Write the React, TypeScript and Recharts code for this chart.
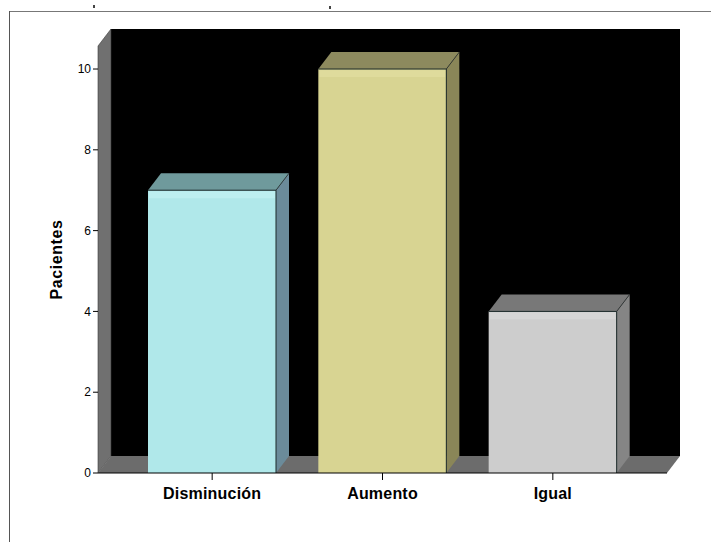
import React from "react";
import { BarChart, Bar, XAxis, YAxis, ReferenceArea, Cell, Label } from "recharts";

const categories = ["Disminución", "Aumento", "Igual"];
const patients = [7, 10, 4];
const yTicks = [0, 2, 4, 6, 8, 10];
const frontColors = ["#b0e8ea", "#d8d492", "#cdcdcd"];
const topColors = ["#6f9a9c", "#8d8a5e", "#787878"];
const sideColors = ["#6b8b9a", "#8a8658", "#858585"];
const bandColors = ["#bdeff0", "#dfdb9c", "#d6d6d6"];

const rows = categories.map((name, i) => ({ name, patients: patients[i] }));

const DEPTH_X = 13;
const DEPTH_Y = 17;
// The category axis is inset from the box on both sides.
const AXIS_INSET = 29;

const poly = (pts: number[][]) => pts.map((p) => p.join(",")).join(" ");

// Back wall, left wall and floor of the 3D plot box.
function PlotBox({ x: insetX, y, width: insetWidth, height }: any) {
  const x = insetX - AXIS_INSET;
  const width = insetWidth + AXIS_INSET * 2;
  const r = x + width;
  const b = y + height;
  return (
    <g>
      <rect x={x + DEPTH_X} y={y - DEPTH_Y} width={width} height={height} fill="#000" />
      <polygon
        points={poly([[x, y], [x + DEPTH_X, y - DEPTH_Y], [x + DEPTH_X, b - DEPTH_Y], [x, b]])}
        fill="#707070"
        stroke="#3a3a3a"
        strokeWidth={0.6}
      />
      <polygon
        points={poly([[x, b], [x + DEPTH_X, b - DEPTH_Y], [r + DEPTH_X, b - DEPTH_Y], [r, b]])}
        fill="#6c6c6c"
      />
    </g>
  );
}

// A bar as a box: front face with a lighter upper band, top face and right side face.
function BoxBar({ x, y, width, height, index }: any) {
  const r = x + width;
  const b = y + height;
  return (
    <g>
      <polygon
        points={poly([[r, y], [r + DEPTH_X, y - DEPTH_Y], [r + DEPTH_X, b - DEPTH_Y], [r, b]])}
        fill={sideColors[index]}
      />
      <polygon
        points={poly([[x, y], [x + DEPTH_X, y - DEPTH_Y], [r + DEPTH_X, y - DEPTH_Y], [r, y]])}
        fill={topColors[index]}
      />
      <rect x={x} y={y} width={width} height={height} fill={frontColors[index]} />
      <rect x={x + 1} y={y + 1} width={width - 2} height={7} fill={bandColors[index]} />
      <line x1={x} y1={y} x2={r} y2={y} stroke="#1c2a2a" strokeWidth={1} />
      <line x1={r} y1={y} x2={r} y2={b} stroke="#1c2a2a" strokeWidth={1} />
      <line x1={r} y1={y} x2={r + DEPTH_X} y2={y - DEPTH_Y} stroke="#2a3030" strokeWidth={0.8} />
    </g>
  );
}

const font = "'Liberation Sans', Arial, sans-serif";

export default function App() {
  return (
    <div style={{ position: "fixed", left: 0, top: 0, width: 711, height: 542, background: "#fff", overflow: "hidden" }}>
      {/* Page frame: only the top and left rules are visible */}
      <div style={{ position: "absolute", left: 9, top: 11, width: 702, height: 1, background: "#777" }} />
      <div style={{ position: "absolute", left: 9, top: 11, width: 1, height: 531, background: "#555" }} />
      <div style={{ position: "absolute", left: 93, top: 5, width: 2, height: 3, background: "#444" }} />
      <div style={{ position: "absolute", left: 329, top: 6, width: 2, height: 3, background: "#444" }} />
      <div style={{ position: "absolute", left: 0, top: 0 }}>
        <BarChart
          width={711}
          height={542}
          data={rows}
          margin={{ top: 46, right: 44, bottom: 0, left: 48 }}
          style={{ fontFamily: font }}
        >
          <ReferenceArea y1={0} y2={10.57} shape={<PlotBox />} ifOverflow="visible" stroke="none" />
          <XAxis
            dataKey="name"
            height={69}
            padding={{ left: AXIS_INSET, right: AXIS_INSET }}
            tickLine={{ stroke: "#000" }}
            tickSize={7}
            tickMargin={8}
            axisLine={{ stroke: "#000", strokeWidth: 1 }}
            tick={{ fill: "#000", fontSize: 16, fontWeight: 700, fontFamily: font, letterSpacing: 0.2 }}
            interval={0}
          />
          <YAxis
            width={50}
            domain={[0, 10.57]}
            ticks={yTicks}
            allowDataOverflow
            tickSize={5}
            tickLine={{ stroke: "#000" }}
            axisLine={false}
            tick={{ fill: "#000", fontSize: 12, fontFamily: font }}
          >
            <Label
              value="Pacientes"
              angle={-90}
              position="insideLeft"
              offset={0}
              dx={8}
              style={{ fontSize: 16, fontWeight: 700, fill: "#000", fontFamily: font, textAnchor: "middle", letterSpacing: 0.6 }}
            />
          </YAxis>
          <Bar dataKey="patients" barSize={128} shape={<BoxBar />} isAnimationActive={false}>
            {rows.map((row) => (
              <Cell key={row.name} />
            ))}
          </Bar>
        </BarChart>
      </div>
    </div>
  );
}
